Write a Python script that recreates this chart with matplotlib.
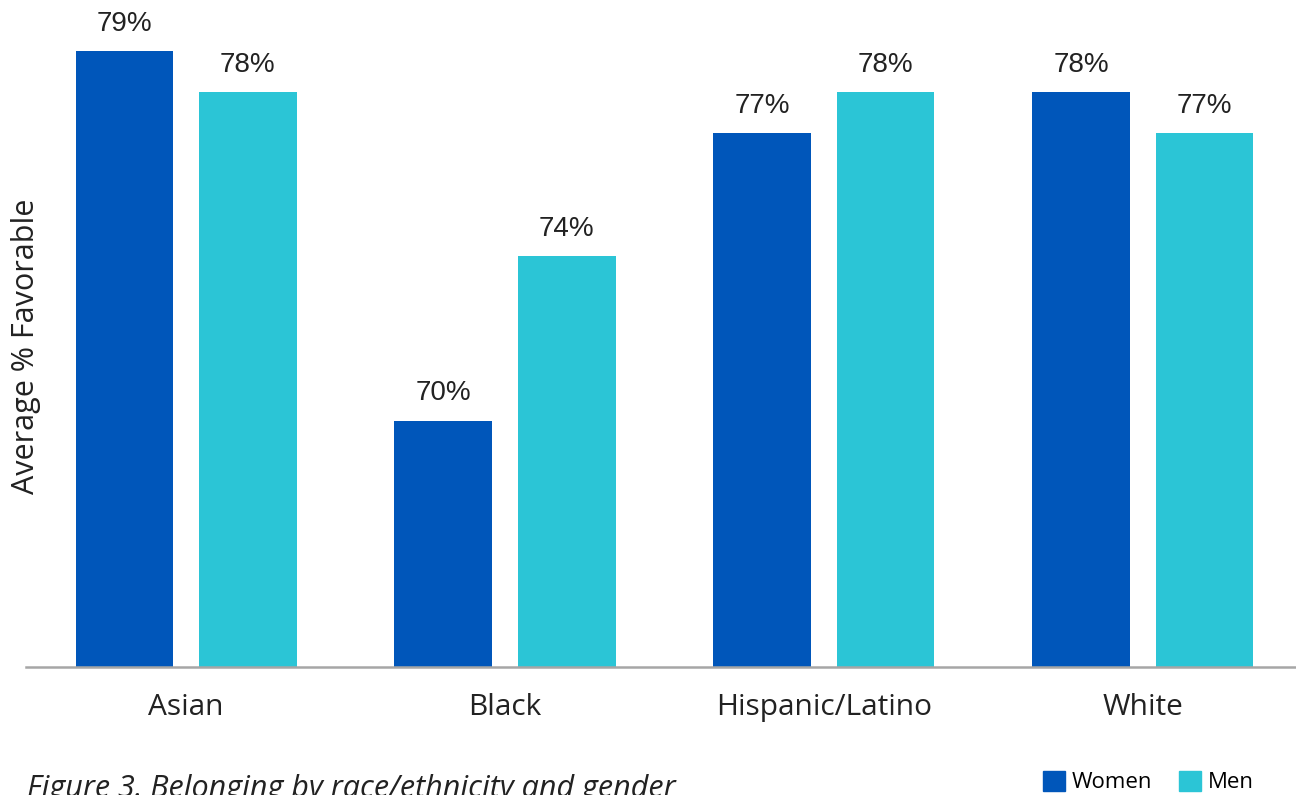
import numpy as np
import matplotlib.pyplot as plt
from matplotlib.patches import Patch

# Data
groups = ["Asian", "Black", "Hispanic/Latino", "White"]
women = [79, 70, 77, 78]
men = [78, 74, 78, 77]
series_names = ["Women", "Men"]
colors = ["#0056BA", "#2BC5D6"]

fig = plt.figure(figsize=(12.96, 7.95), dpi=100)
ax = fig.add_axes([0.02, 0.161, 0.98, 0.839])

x = np.arange(len(groups))
width = 0.307
offset = 0.193

for vals, dx, c in [(women, -offset, colors[0]), (men, offset, colors[1])]:
    bars = ax.bar(x + dx, vals, width=width, color=c, bottom=0)
    for b, v in zip(bars, vals):
        ax.text(b.get_x() + b.get_width() / 2, v + 0.35, f"{v}%",
                ha="center", va="bottom", fontsize=20,
                family="Liberation Sans", color="#222222")

ax.set_ylim(64, 80.24)
ax.set_xlim(-0.502, 3.48)

for s in ["top", "right", "left"]:
    ax.spines[s].set_visible(False)
ax.spines["bottom"].set_color("#A6A6A6")
ax.spines["bottom"].set_linewidth(1.8)
ax.set_yticks([])
ax.set_xticks(x)
ax.set_xticklabels(groups, fontsize=21.5, family="Open Sans", color="#222222")
ax.tick_params(axis="x", length=0, pad=19)

fig.text(0.02, 0.565, "Average % Favorable", rotation=90, ha="center",
         va="center", fontsize=22, family="Open Sans", color="#222222")

fig.text(0.021, -0.002, "Figure 3. Belonging by race/ethnicity and gender",
         ha="left", va="baseline", fontsize=22, style="italic",
         family="Open Sans", color="#222222")

handles = [Patch(color=c, label=n) for c, n in zip(colors, series_names)]
fig.legend(handles=handles, loc="lower right", bbox_to_anchor=(0.976, -0.012),
           ncol=2, frameon=False,
           handlelength=1.0, handleheight=1.0, handletextpad=0.3,
           columnspacing=1.2, borderpad=0,
           prop={"family": "Open Sans", "size": 16})

fig.savefig("out.png", dpi=100)
